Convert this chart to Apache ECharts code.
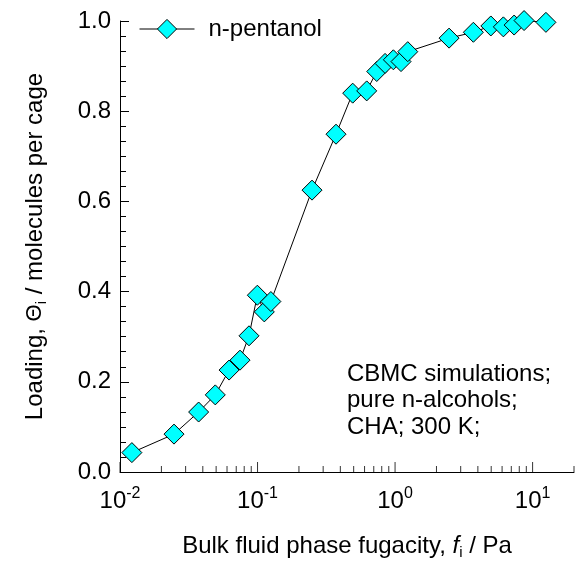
<!DOCTYPE html>
<html>
<head>
<meta charset="utf-8">
<script src="https://cdn.jsdelivr.net/npm/echarts@6/dist/echarts.min.js"></script>
<style>
html,body{margin:0;padding:0;background:#fff;}
#main{width:583px;height:567px;}
</style>
</head>
<body>
<div id="main"></div>
<script>
// Data
const fugacity = [0.0122, 0.0247, 0.0373, 0.0493, 0.0621, 0.0746, 0.0867, 0.0997, 0.112, 0.125, 0.249, 0.372, 0.492, 0.622, 0.736, 0.846, 0.972, 1.105, 1.237, 2.47, 3.71, 4.97, 6.13, 7.34, 8.67, 12.5];
const loading = [0.043, 0.084, 0.133, 0.171, 0.226, 0.248, 0.302, 0.392, 0.355, 0.378, 0.625, 0.749, 0.840, 0.845, 0.888, 0.906, 0.914, 0.910, 0.932, 0.962, 0.975, 0.989, 0.987, 0.991, 1.001, 0.997];
const seriesName = 'n-pentanol';
const majorTicksX = [0.01, 0.1, 1, 10];
const minorTicksX = [0.02, 0.03, 0.04, 0.05, 0.06, 0.07, 0.08, 0.09,
                     0.2, 0.3, 0.4, 0.5, 0.6, 0.7, 0.8, 0.9,
                     2, 3, 4, 5, 6, 7, 8, 9, 20];
const annotationLines = ['CBMC simulations;', 'pure n-alcohols;', 'CHA; 300 K;'];

const FONT = '"Liberation Sans", Arial, sans-serif';
const chart = echarts.init(document.getElementById('main'), null, {renderer: 'canvas'});

const points = fugacity.map((x, i) => [x, loading[i]]);
const majorTickData = majorTicksX.map(v => [v, 0]);
const minorTickData = minorTicksX.map(v => [v, 0]);

const option = {
  backgroundColor: '#ffffff',
  animation: false,
  grid: {left: 120, right: 9, top: 21, bottom: 95, containLabel: false},
  legend: {
    data: [seriesName],
    left: 139, top: 17, padding: 0,
    itemWidth: 55, itemHeight: 24,
    lineStyle: {width: 1, color: '#000'},
    itemStyle: {color: '#00FFFF', borderColor: '#000', borderWidth: 1},
    textStyle: {fontFamily: FONT, fontSize: 24, color: '#000', padding: [0, 0, 0, 9]}
  },
  xAxis: {
    type: 'log', logBase: 10, min: 0.01, max: 20,
    axisLine: {show: true, lineStyle: {color: '#000', width: 1}},
    axisTick: {show: false},
    splitLine: {show: false},
    minorTick: {show: false},
    axisLabel: {
      margin: 14,
      fontFamily: FONT, fontSize: 24, color: '#000',
      formatter: function (v) {
        const e = Math.round(Math.log10(v));
        if (Math.abs(v - Math.pow(10, e)) > 1e-6 * v) return '';
        return '{b|10}{sup|' + e + '}';
      },
      rich: {
        b: {fontFamily: FONT, fontSize: 24, color: '#000', lineHeight: 27, verticalAlign: 'bottom'},
        sup: {fontFamily: FONT, fontSize: 16, color: '#000', lineHeight: 16, verticalAlign: 'top'}
      }
    },
    name: '{n|Bulk fluid phase fugacity, }{it|f}{sub|i}{n| / Pa}',
    nameLocation: 'middle',
    nameGap: 60,
    nameTextStyle: {
      fontFamily: FONT, fontSize: 24, color: '#000',
      rich: {
        n: {fontFamily: FONT, fontSize: 24, color: '#000', lineHeight: 28},
        it: {fontFamily: FONT, fontSize: 24, fontStyle: 'italic', color: '#000', lineHeight: 28},
        sub: {fontFamily: FONT, fontSize: 15, color: '#000', lineHeight: 12, verticalAlign: 'bottom'}
      }
    }
  },
  yAxis: {
    type: 'value', min: 0, max: 1, interval: 0.2,
    axisLine: {show: true, lineStyle: {color: '#000', width: 1}},
    axisTick: {show: true, inside: true, length: 9, lineStyle: {color: '#000'}},
    minorTick: {show: true, splitNumber: 6, length: 6, lineStyle: {color: '#000'}},
    splitLine: {show: false},
    axisLabel: {
      margin: 9, fontFamily: FONT, fontSize: 24, color: '#000',
      formatter: v => v.toFixed(1)
    },
    name: '{n|Loading, }{t|Θ}{sub|i}{n| / molecules per cage}',
    nameLocation: 'middle',
    nameGap: 71,
    nameTextStyle: {
      fontFamily: FONT, fontSize: 24, color: '#000',
      rich: {
        n: {fontFamily: FONT, fontSize: 24, color: '#000', lineHeight: 28},
        t: {fontFamily: FONT, fontSize: 22, color: '#000', lineHeight: 28},
        sub: {fontFamily: FONT, fontSize: 15, color: '#000', lineHeight: 12, verticalAlign: 'bottom'}
      }
    }
  },
  series: [
    {
      name: 'xMajorTicks', type: 'scatter', data: majorTickData,
      symbol: 'rect', symbolSize: [1, 10], symbolOffset: [0, -5],
      itemStyle: {color: '#000'}, silent: true, clip: false, z: 1
    },
    {
      name: 'xMinorTicks', type: 'scatter', data: minorTickData,
      symbol: 'rect', symbolSize: [1, 6], symbolOffset: [0, -3],
      itemStyle: {color: '#000'}, silent: true, clip: false, z: 1
    },
    {
      name: seriesName, type: 'line', data: points,
      symbol: 'diamond', symbolSize: 20, clip: false,
      lineStyle: {color: '#000', width: 1},
      itemStyle: {color: '#00FFFF', borderColor: '#000', borderWidth: 1},
      z: 3
    }
  ],
  graphic: [
    {
      type: 'text', left: 347, top: 361,
      style: {
        text: annotationLines.join('\n'),
        font: '24px ' + FONT, fill: '#000', lineHeight: 26.5
      }
    }
  ]
};
chart.setOption(option);
</script>
</body>
</html>
